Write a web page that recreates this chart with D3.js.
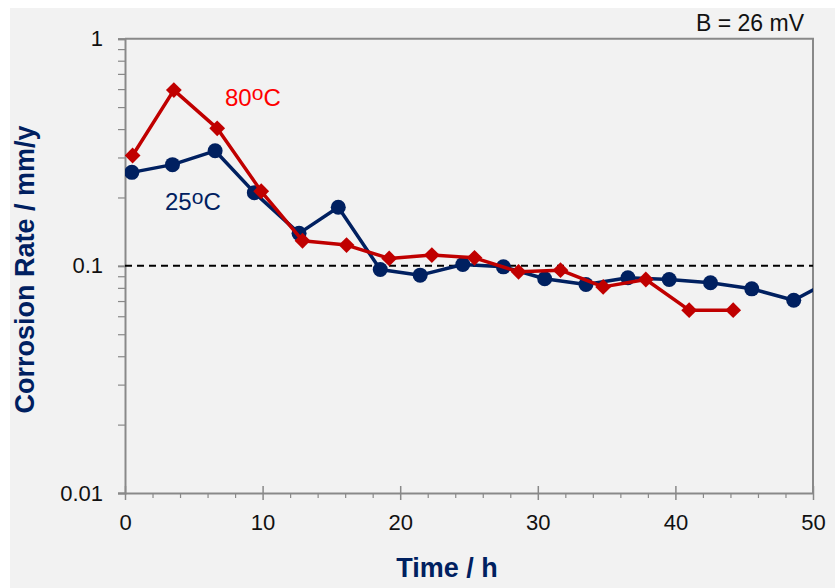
<!DOCTYPE html>
<html><head><meta charset="utf-8">
<style>
body { margin: 0; background: #fff; }
text { font-family: "Liberation Sans", Arial, sans-serif; }
</style>
</head><body><svg width="835" height="588"></svg>
<script src="https://cdn.jsdelivr.net/npm/d3@7"></script>
<script>

// 25 oC series (time in h, corrosion rate in mm/y)
var time25 = [0.5, 3.45, 6.55, 9.4, 12.65, 15.5, 18.55, 21.45, 24.55, 27.5, 30.5, 33.5, 36.55, 39.55, 42.55, 45.55, 48.6, 51.6];
var rate25 = [0.258, 0.279, 0.321, 0.21, 0.139, 0.181, 0.0964, 0.091, 0.1014, 0.099, 0.0877, 0.0828, 0.0886, 0.0871, 0.0842, 0.0792, 0.0706, 0.088];

// 80 oC series
var time80 = [0.55, 3.55, 6.7, 9.9, 12.9, 16.1, 19.2, 22.3, 25.4, 28.6, 31.65, 34.75, 37.85, 41.0, 44.2];
var rate80 = [0.306, 0.594, 0.403, 0.213, 0.129, 0.1234, 0.1078, 0.1115, 0.1085, 0.0941, 0.0957, 0.0808, 0.0871, 0.0638, 0.0638];

var xTicks = [0, 10, 20, 30, 40, 50];
var yTicks = [0.01, 0.1, 1];
var yTickLabels = ["0.01", "0.1", "1"];
var refLevel = 0.1;

var svg = d3.select("svg");
var pLeft = 125, pRight = 813, pTop = 38.7, pBottom = 493;

var x = d3.scaleLinear().domain([0, 50]).range([pLeft, pRight]);
var y = d3.scaleLog().domain([0.01, 1]).range([pBottom, pTop]);

var navy = "#002060", red = "#c00000", axisGray = "#898989";

// background
svg.append("rect").attr("x", 10).attr("y", 8).attr("width", 825).attr("height", 580).attr("fill", "#f2f2f2");

svg.append("defs").append("clipPath").attr("id", "plot")
  .append("rect").attr("x", pLeft).attr("y", pTop).attr("width", pRight - pLeft).attr("height", pBottom - pTop);

// frame (top + right)
svg.append("path")
    .attr("d", "M" + pLeft + "," + pTop + "H" + pRight + "V" + pBottom)
    .attr("fill", "none").attr("stroke", axisGray).attr("stroke-width", 2);

// y axis: major and minor ticks
var yMinor = [];
[0.01, 0.1].forEach(function(d) { for (var k = 2; k <= 9; k++) yMinor.push(d * k); });

var yAxis = svg.append("g").attr("transform", "translate(" + pLeft + ",0)")
    .call(d3.axisLeft(y).tickValues(yTicks).tickSize(7).tickPadding(15)
      .tickFormat(function(d, i) { return yTickLabels[i]; }));
yAxis.select(".domain").attr("stroke", axisGray).attr("stroke-width", 2);
yAxis.selectAll(".tick line").attr("stroke", axisGray).attr("stroke-width", 2);
yAxis.selectAll(".tick text").attr("font-size", 22).attr("fill", "#111").attr("font-family", "Liberation Sans, Arial, sans-serif");

var yMin = svg.append("g").attr("transform", "translate(" + pLeft + ",0)")
    .call(d3.axisLeft(y).tickValues(yMinor).tickSize(7).tickFormat(""));
yMin.select(".domain").remove();
yMin.selectAll(".tick line").attr("stroke", axisGray).attr("stroke-width", 1.2);

// x axis
var xMinor = d3.range(2, 50, 2).filter(function(d) { return d % 10 !== 0; });
var xAxis = svg.append("g").attr("transform", "translate(0," + pBottom + ")")
    .call(d3.axisBottom(x).tickValues(xTicks).tickSizeInner(7).tickSizeOuter(0).tickPadding(14));
xAxis.select(".domain").attr("stroke", axisGray).attr("stroke-width", 2);
xAxis.selectAll(".tick line").attr("stroke", axisGray).attr("stroke-width", 1.5).attr("y1", -7);
xAxis.selectAll(".tick text").attr("font-size", 22).attr("fill", "#111").attr("font-family", "Liberation Sans, Arial, sans-serif");

var xMin = svg.append("g").attr("transform", "translate(0," + pBottom + ")")
    .call(d3.axisBottom(x).tickValues(xMinor).tickSize(5).tickFormat(""));
xMin.select(".domain").remove();
xMin.selectAll(".tick line").attr("stroke", axisGray).attr("stroke-width", 1.2);

// reference line at 0.1
svg.append("line")
    .attr("x1", pLeft).attr("x2", pRight).attr("y1", y(refLevel)).attr("y2", y(refLevel))
    .attr("stroke", "#000").attr("stroke-width", 2).attr("stroke-dasharray", "7,5");

var plot = svg.append("g").attr("clip-path", "url(#plot)");

function series(times, rates) {
  return times.map(function(t, i) { return { t: t, r: rates[i] }; });
}
var s25 = series(time25, rate25), s80 = series(time80, rate80);
var line = d3.line().x(function(d) { return x(d.t); }).y(function(d) { return y(d.r); });

plot.append("path").datum(s25).attr("d", line)
    .attr("fill", "none").attr("stroke", navy).attr("stroke-width", 3.5).attr("stroke-linejoin", "round");
plot.selectAll(".c25").data(s25).enter().append("circle")
    .attr("cx", function(d) { return x(d.t); }).attr("cy", function(d) { return y(d.r); })
    .attr("r", 7.5).attr("fill", navy);

plot.append("path").datum(s80).attr("d", line)
    .attr("fill", "none").attr("stroke", red).attr("stroke-width", 3.5).attr("stroke-linejoin", "round");
plot.selectAll(".d80").data(s80).enter().append("path")
    .attr("transform", function(d) { return "translate(" + x(d.t) + "," + y(d.r) + ") rotate(45)"; })
    .attr("d", d3.symbol().type(d3.symbolSquare).size(125))
    .attr("fill", red);

// labels
function degLabel(tx, ty, num, color) {
  var t = svg.append("text").attr("x", tx).attr("y", ty).attr("font-size", 24).attr("fill", color);
  t.append("tspan").text(num);
  t.append("tspan").attr("dy", -6).attr("font-size", 21).text("o");
  t.append("tspan").attr("dy", 6).text("C");
}
degLabel(225, 106, "80", "#ff0000");
degLabel(165, 210, "25", navy);

svg.append("text").attr("x", 804).attr("y", 31).attr("text-anchor", "end")
    .attr("font-size", 23).attr("fill", "#111").text("B = 26 mV");

svg.append("text").attr("x", 447).attr("y", 577).attr("text-anchor", "middle")
    .attr("font-size", 27).attr("font-weight", "bold").attr("fill", navy).text("Time / h");

svg.append("text").attr("transform", "translate(34,269.5) rotate(-90)").attr("text-anchor", "middle")
    .attr("font-size", 27).attr("font-weight", "bold").attr("fill", navy).text("Corrosion Rate / mm/y");

</script>
</body></html>
